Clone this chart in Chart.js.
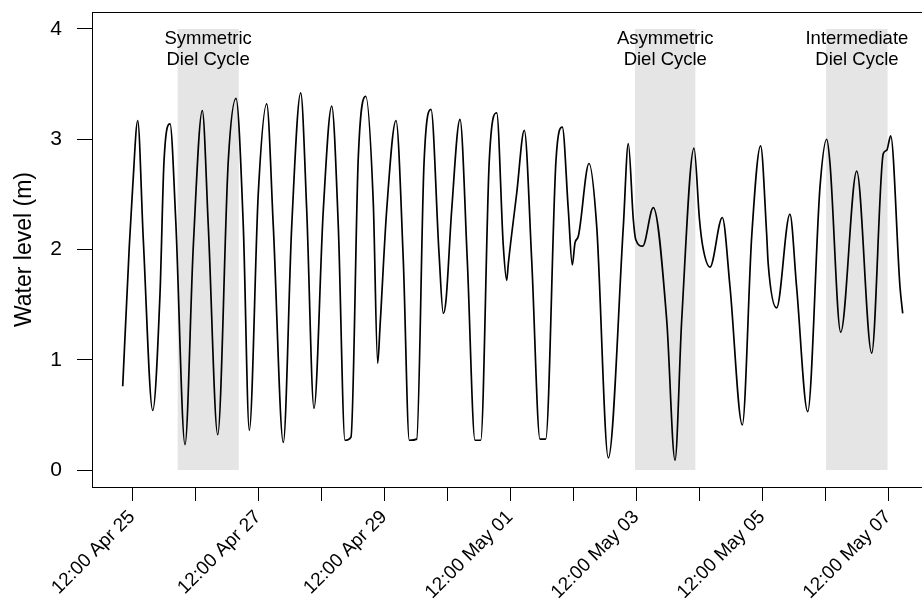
<!DOCTYPE html>
<html lang="en">
<head>
  <meta charset="UTF-8">
  <title>Water level</title>
  <style>
    html, body { margin: 0; padding: 0; background: #fff; }
  </style>
</head>
<body>
  <canvas id="myChart" width="922" height="606"></canvas>

<script src="https://cdn.jsdelivr.net/npm/chart.js"></script>

<script>
  // hours counted from 00:00 Apr 25
  var hours = [8.46,10.97,12.27,14.17,16.30,19.89,22.67,24.19,26.48,28.65,
    32.19,35.35,38.78,41.07,44.65,48.69,51.62,54.40,56.69,60.11,
    63.31,65.83,69.64,72.84,76.27,78.55,81.33,84.88,88.08,90.59,
    93.14,95.43,98.21,101.03,103.92,105.60,106.48,109.03,112.57,115.35,
    117.64,120.46,123.24,125.90,128.95,130.59,131.62,133.79,136.95,139.73,
    142.67,144.84,148.11,150.93,153.45,154.74,155.35,158.55,161.45,164.27,
    167.43,169.60,173.52,175.92,178.21,179.73,180.76,182.02,186.10,189.03,
    193.45,199.17,201.07,202.98,203.89,206.55,210.59,215.70,218.86,221.41,
    226.10,228.19,229.41,232.19,236.88,239.81,244.50,248.08,251.47,253.75,
    254.36,257.56,262.63,265.18,269.41,274.10,276.65,277.90,281.98,288.08,
    293.79,298.21,299.51,301.02,304.57,305.60];
  var level = [0.76,2.03,2.57,3.17,2.09,0.54,1.60,2.80,3.14,2.27,
    0.23,2.03,3.26,2.21,0.32,2.81,3.37,2.21,0.36,2.51,
    3.32,2.21,0.25,2.21,3.42,2.36,0.56,2.36,3.30,2.21,
    0.27,0.30,2.84,3.39,2.42,0.97,1.30,2.36,3.17,1.90,
    0.27,0.28,2.78,3.27,1.97,1.42,1.54,2.36,3.18,1.90,
    0.27,0.27,2.81,3.24,2.03,1.72,1.87,2.51,3.08,1.90,
    0.28,0.28,2.81,3.11,2.36,1.86,2.06,2.12,2.78,2.21,
    0.11,2.21,2.96,2.27,2.09,2.03,2.38,1.36,0.09,1.36,
    2.92,2.27,2.03,1.84,2.29,1.66,0.41,2.12,2.94,2.15,
    1.87,1.47,2.32,1.66,0.53,2.57,3.00,2.78,1.25,2.71,
    1.06,2.87,2.90,3.03,1.66,1.42];

  var tickHours = [12,36,60,84,108,132,156,180,204,228,252,276,300];
  var tickLabels = ["12:00 Apr 25","","12:00 Apr 27","","12:00 Apr 29","",
    "12:00 May 01","","12:00 May 03","","12:00 May 05","","12:00 May 07"];
  var yTicks = [0,1,2,3,4];

  // shaded diel cycles
  var cycleStart = [29.3, 203.6, 276.4];
  var cycleEnd = [52.7, 226.7, 299.9];
  var cycleTop = 4;
  var cycleNames = [["Symmetric","Diel Cycle"],["Asymmetric","Diel Cycle"],["Intermediate","Diel Cycle"]];

  var FONT = '"Liberation Sans", Arial, sans-serif';

  var datasets = [{
    data: hours.map(function(h, i) { return {x: h, y: level[i]}; }),
    borderColor: '#000',
    borderWidth: 1.7,
    pointRadius: 0,
    cubicInterpolationMode: 'monotone',
    fill: false
  }];
  for (var i = 0; i < cycleStart.length; i++) {
    datasets.push({
      data: [{x: cycleStart[i], y: cycleTop}, {x: cycleEnd[i], y: cycleTop}],
      backgroundColor: '#e5e5e5',
      borderWidth: 0,
      pointRadius: 0,
      fill: 'origin'
    });
  }

  var boxAndText = {
    id: 'boxAndText',
    afterDatasetsDraw: function(chart) {
      var a = chart.chartArea, c = chart.ctx;
      var sx = chart.scales.x, sy = chart.scales.y;
      c.save();
      c.strokeStyle = '#000';
      c.lineWidth = 1;
      c.strokeRect(a.left + 0.5, a.top + 0.5, a.right - a.left, a.bottom - a.top);
      c.font = '18.5px ' + FONT;
      c.fillStyle = '#000';
      c.textAlign = 'center';
      var top = sy.getPixelForValue(cycleTop);
      for (var i = 0; i < cycleNames.length; i++) {
        var cx = sx.getPixelForValue((cycleStart[i] + cycleEnd[i]) / 2);
        c.fillText(cycleNames[i][0], cx, top + 15);
        c.fillText(cycleNames[i][1], cx, top + 36.5);
      }
      c.restore();
    }
  };

  var chart = new Chart(document.getElementById('myChart'), {
    type: 'line',
    data: { datasets: datasets },
    options: {
      responsive: false,
      animation: false,
      layout: { padding: { top: 12, right: 0, left: 0, bottom: 0 } },
      plugins: { legend: { display: false }, tooltip: { enabled: false } },
      scales: {
        x: {
          type: 'linear',
          min: -3.24,
          max: 312.95,
          afterBuildTicks: function(s) { s.ticks = tickHours.map(function(v) { return {value: v}; }); },
          afterFit: function(s) { s.height = 119; s.paddingLeft = 0; s.paddingRight = 0; },
          grid: { drawOnChartArea: false, drawTicks: true, tickLength: 14, color: '#000' },
          border: { display: false },
          ticks: {
            autoSkip: false,
            minRotation: 45,
            maxRotation: 45,
            padding: 5,
            color: '#000',
            font: { family: FONT, size: 19 },
            callback: function(v, idx) { return tickLabels[idx]; }
          }
        },
        y: {
          min: -0.154,
          max: 4.154,
          afterBuildTicks: function(s) { s.ticks = yTicks.map(function(v) { return {value: v}; }); },
          afterFit: function(s) { s.width = 92; s.paddingTop = 0; s.paddingBottom = 0; },
          grid: { drawOnChartArea: false, drawTicks: true, tickLength: 15, color: '#000' },
          border: { display: false },
          ticks: {
            padding: 15,
            color: '#000',
            font: { family: FONT, size: 21 },
            callback: function(v) { return v; }
          },
          title: {
            display: true,
            text: 'Water level (m)',
            color: '#000',
            font: { family: FONT, size: 23 },
            padding: { top: 11, bottom: 0 }
          }
        }
      }
    },
    plugins: [boxAndText]
  });
</script>
</body>
</html>
